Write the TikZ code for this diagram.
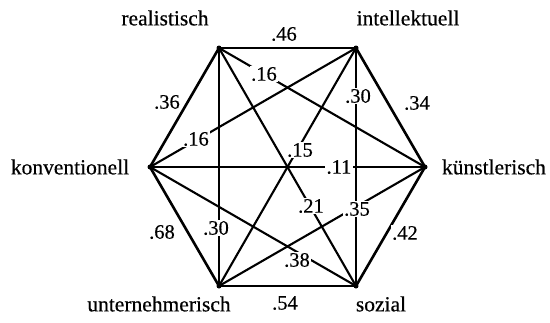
\documentclass[tikz,border=0pt]{standalone}
\usepackage{fontspec}
\setmainfont{Liberation Serif}
\newfontfamily\scanfont{Liberation Serif}[FakeBold=0.4]
\begin{document}
\begin{tikzpicture}[x=1pt,y=-1pt,
  edge/.style={line width=2.6pt, line cap=round, line join=round},
  diag/.style={line width=2.1pt, line cap=round},
  val/.style={fill=white, inner sep=1.2pt, font=\scanfont\fontsize{20.5}{22}\selectfont},
  lab/.style={inner sep=0pt, font=\scanfont\fontsize{21.5}{24}\selectfont},
  vdot/.style={circle, fill=black, inner sep=0pt, minimum size=5pt}
]
\useasboundingbox (0,0) rectangle (550,322);
% vertices
\coordinate (R) at (219,48);
\coordinate (I) at (356,48);
\coordinate (Kv) at (150,167);
\coordinate (Ks) at (425,167);
\coordinate (U) at (219,286);
\coordinate (S) at (356,286);
% hexagon edges
\draw[edge] (R) -- (I);
\draw[edge] (I) -- (Ks);
\draw[edge] (Ks) -- (S);
\draw[edge] (S) -- (U);
\draw[edge] (U) -- (Kv);
\draw[edge] (Kv) -- (R);
% diagonals
\draw[diag] (R) -- (U);
\draw[diag] (I) -- (S);
\draw[diag] (R) -- (Ks);
\draw[diag] (I) -- (Kv);
\draw[diag] (R) -- (S);
\draw[diag] (I) -- (U);
\draw[diag] (Kv) -- (Ks);
\draw[diag] (Kv) -- (S);
\draw[diag] (U) -- (Ks);
% vertex blobs
\foreach \v in {R,I,Kv,Ks,U,S} \node[vdot] at (\v) {};
% category labels
\node[lab] (lR) at (165,18) {realistisch};
\node[lab] (lI) at (408,18) {intellektuell};
\node[lab] (lKv) at (70,167) {konventionell};
\node[lab] (lKs) at (494,167) {künstlerisch};
\node[lab] (lU) at (159,304) {unternehmerisch};
\node[lab] (lS) at (381,304) {sozial};
% values
\node[val] (v46) at (284,34) {.46};
\node[val] (v36) at (167,102) {.36};
\node[val] (v34) at (417,103) {.34};
\node[val] (v68) at (162,232) {.68};
\node[val] (v42) at (405,233) {.42};
\node[val] (v54) at (285,303) {.54};
\node[val] (v16a) at (264,74) {.16};
\node[val] (v16b) at (196,139) {.16};
\node[val] (v15) at (300,150) {.15};
\node[val] (v11) at (339,167) {.11};
\node[val] (v21) at (311,206) {.21};
\node[val] (v35) at (357,209) {.35};
\node[val] (v30a) at (216,228) {.30};
\node[val] (v30b) at (358,96) {.30};
\node[val] (v38) at (297,260) {.38};
\end{tikzpicture}
\end{document}
